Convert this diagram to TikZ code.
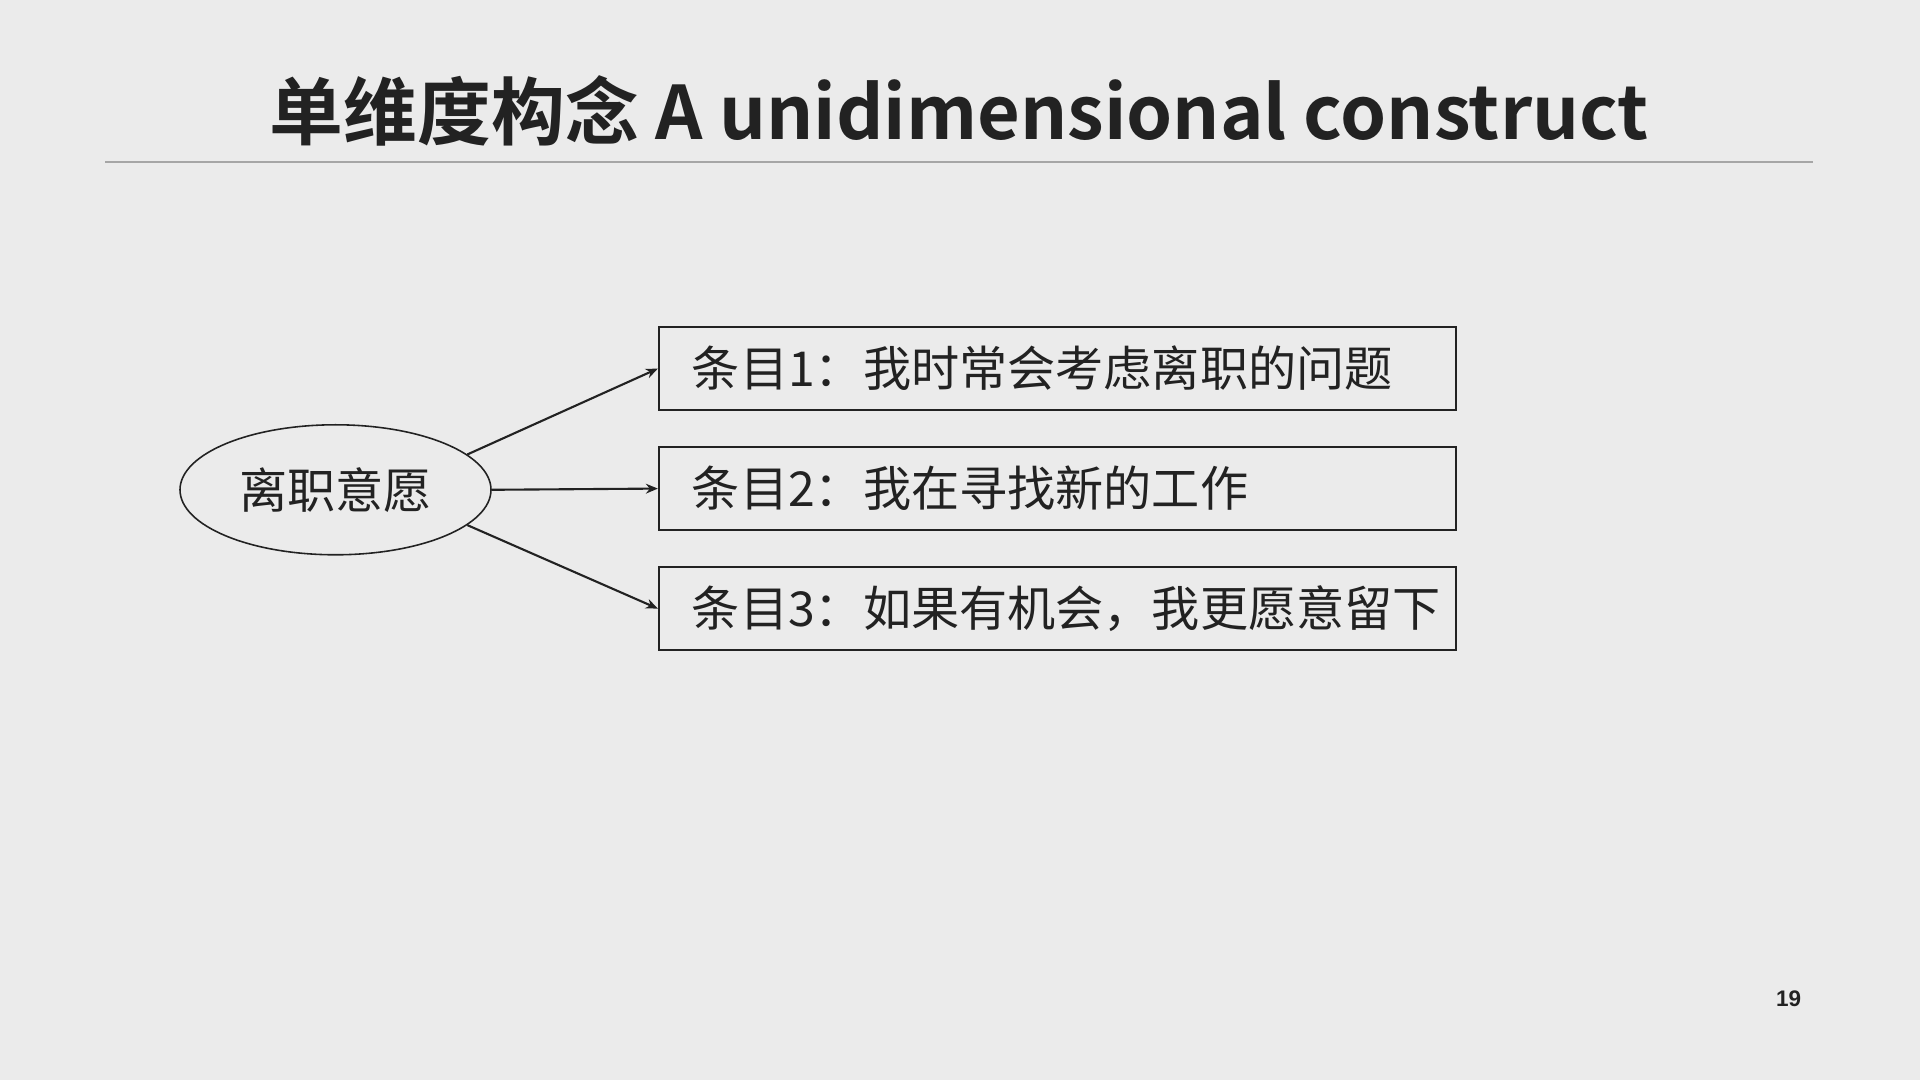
\documentclass[tikz,border=0pt]{standalone}
\usepackage{fontspec}
\setmainfont{Noto Sans CJK SC}
\newfontfamily\titlefont{Noto Sans CJK SC Bold}
\newfontfamily\pagefont{Liberation Sans}
\usepackage{tikz}
\usetikzlibrary{arrows,arrows.meta,shapes,positioning,calc}
\tikzset{>=stealth}
\definecolor{bgcol}{HTML}{EBEBEB}
\definecolor{inkcol}{HTML}{222222}
\definecolor{rulecol}{HTML}{A6A6A6}
\tikzset{
	itembox/.style={draw=inkcol,line width=0.6pt,rectangle,minimum width=7.97cm,minimum height=0.83cm,
		inner xsep=0.33cm,text width=7.31cm,align=left,font=\fontsize{13.7}{16}\selectfont,text=inkcol},
	factor/.style={draw=inkcol,line width=0.45pt,ellipse,minimum width=3.11cm,minimum height=1.30cm,
		inner sep=0pt,font=\fontsize{13.7}{16}\selectfont,text=inkcol},
	link/.style={-{Stealth[length=3.4pt,width=2.8pt]},draw=inkcol,line width=0.6pt}
}
\begin{document}
\begin{tikzpicture}
	\fill[bgcol] (0,0) rectangle (19.2,10.8);
	\useasboundingbox (0,0) rectangle (19.2,10.8);
	%Titel
	\node[anchor=base,text=inkcol,font=\titlefont\fontsize{21.0}{24}\selectfont] (T) at (9.59,9.40) {单维度构念 A unidimensional construct};
	\draw[rulecol,line width=0.35pt] (1.05,9.18) -- (18.13,9.18);
	
	%Factor
	\node[factor] (F) at (3.355,5.902) {离职意愿};
	
	%Items
	\node[itembox] (I1) at (10.574,7.114) {条目1：我时常会考虑离职的问题};
	\node[itembox] (I2) at (10.574,5.914) {条目2：我在寻找新的工作};
	\node[itembox] (I3) at (10.574,4.714) {条目3：如果有机会，我更愿意留下};
	
	\draw[link] (F.15) -- (I1.west);
	\draw[link] (F.east) -- (I2.west);
	\draw[link] (F.-15) -- (I3.west);
	
	\node[text=inkcol,font=\pagefont\bfseries\fontsize{6.4}{8}\selectfont] (N) at (17.885,0.813) {19};
\end{tikzpicture}
\end{document}
